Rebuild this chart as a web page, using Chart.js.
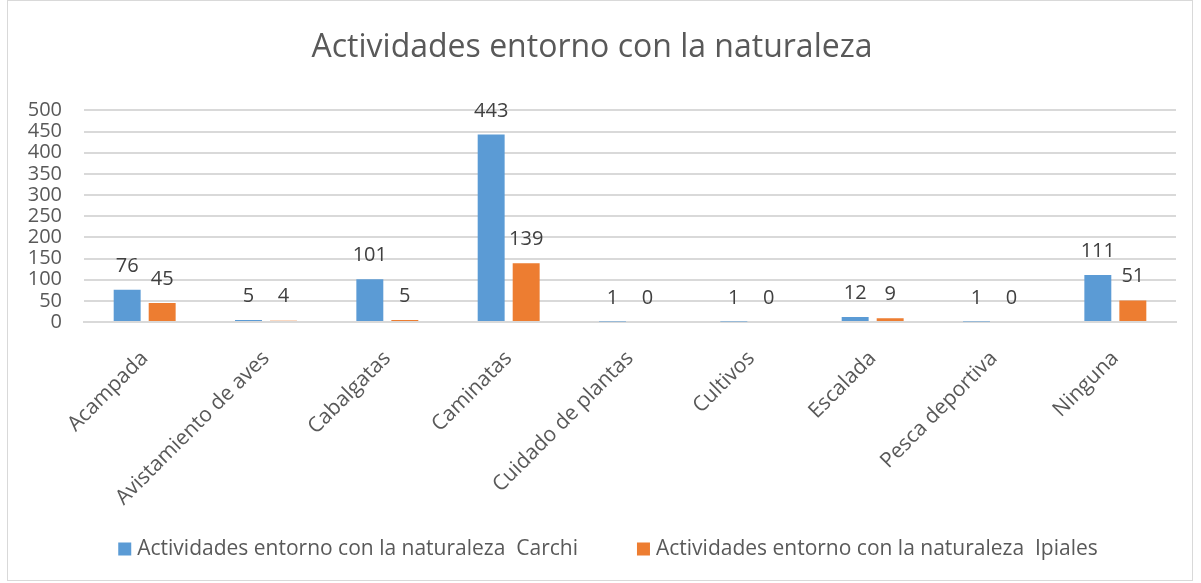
<!DOCTYPE html>
<html>
<head>
<meta charset="utf-8">
<script src="https://cdn.jsdelivr.net/npm/chart.js@4.4.1/dist/chart.umd.min.js"></script>
<style>
  html, body { margin: 0; padding: 0; background: #fff; }
  #wrap { position: relative; width: 1201px; height: 583px; }
  #frame {
    position: absolute; left: 7px; top: 0; width: 1184px; height: 579px;
    border: 1px solid #d9d9d9; pointer-events: none;
  }
</style>
</head>
<body>
<div id="wrap">
  <canvas id="chart" width="1201" height="583"></canvas>
  <div id="frame"></div>
</div>
<script>
// chart data
const categories = ['Acampada', 'Avistamiento de aves', 'Cabalgatas', 'Caminatas',
  'Cuidado de plantas', 'Cultivos', 'Escalada', 'Pesca deportiva', 'Ninguna'];
const carchiValues = [76, 5, 101, 443, 1, 1, 12, 1, 111];
const ipialesValues = [45, 4, 5, 139, 0, 0, 9, 0, 51];
const yTicks = [0, 50, 100, 150, 200, 250, 300, 350, 400, 450, 500];

const FONT = "'Open Sans', sans-serif";
const BLUE = '#5b9bd5';
const ORANGE = '#ed7d31';
const TEXT = '#595959';

// the "Avistamiento de aves" Ipiales bar is shown lighter in the original
const ipialesColors = categories.map((c, i) => i === 1 ? '#f8cbad' : ORANGE);

// simple value labels above each bar (no datalabels plugin available)
const valueLabels = {
  id: 'valueLabels',
  afterDatasetsDraw(chart) {
    const ctx = chart.ctx;
    ctx.save();
    ctx.font = '20px ' + FONT;
    ctx.fillStyle = '#404040';
    ctx.textAlign = 'center';
    ctx.textBaseline = 'alphabetic';
    chart.data.datasets.forEach((ds, di) => {
      chart.getDatasetMeta(di).data.forEach((bar, i) => {
        ctx.fillText(String(ds.data[i]), bar.x, bar.y - 18);
      });
    });
    ctx.restore();
  }
};

// legend drawn by hand so the rotated x labels keep their room
const bottomLegend = {
  id: 'bottomLegend',
  afterDraw(chart) {
    const ctx = chart.ctx;
    const box = 13, gap = 6, itemGap = 59, centerX = 608, centerY = 549;
    ctx.save();
    ctx.font = '21px ' + FONT;
    ctx.textBaseline = 'middle';
    ctx.textAlign = 'left';
    const items = chart.data.datasets.map((ds, i) => ({
      text: ds.label,
      color: i === 0 ? BLUE : ORANGE,
      w: box + gap + ctx.measureText(ds.label).width
    }));
    const total = items.reduce((s, it) => s + it.w, 0) + itemGap * (items.length - 1);
    let x = centerX - total / 2;
    items.forEach(it => {
      ctx.fillStyle = it.color;
      ctx.fillRect(x, centerY - box / 2, box, box);
      ctx.fillStyle = TEXT;
      ctx.fillText(it.text, x + box + gap, centerY);
      x += it.w + itemGap;
    });
    ctx.restore();
  }
};

const ctx = document.getElementById('chart').getContext('2d');
new Chart(ctx, {
  type: 'bar',
  data: {
    labels: categories,
    datasets: [{
      label: 'Actividades entorno con la naturaleza  Carchi',
      data: carchiValues,
      backgroundColor: BLUE,
      barPercentage: 0.77,
      categoryPercentage: 0.577
    },
    {
      label: 'Actividades entorno con la naturaleza  Ipiales',
      data: ipialesValues,
      backgroundColor: ipialesColors,
      barPercentage: 0.77,
      categoryPercentage: 0.577
    }]
  },
  options: {
    responsive: false,
    animation: false,
    layout: { padding: { left: 8, right: 25, top: 0, bottom: 55 } },
    plugins: {
      title: {
        display: true,
        text: 'Actividades entorno con la naturaleza',
        color: TEXT,
        font: { family: FONT, size: 32, weight: 'normal' },
        padding: { top: 29, bottom: 43 }
      },
      legend: { display: false },
      tooltip: { enabled: false }
    },
    scales: {
      x: {
        grid: { display: false, drawTicks: false },
        border: { color: '#d9d9d9', width: 2 },
        ticks: {
          color: TEXT,
          font: { family: FONT, size: 21 },
          minRotation: 45,
          maxRotation: 45,
          padding: 24
        },
        afterFit(scale) { scale.height = 206; }
      },
      y: {
        min: 0,
        max: 500,
        grid: { color: '#d9d9d9', lineWidth: 2, drawTicks: false },
        border: { display: false },
        ticks: {
          color: TEXT,
          font: { family: FONT, size: 20 },
          padding: 22,
          autoSkip: false
        },
        afterBuildTicks(scale) {
          scale.ticks = yTicks.map(v => ({ value: v }));
        },
        afterFit(scale) { scale.width = 76; }
      }
    }
  },
  plugins: [valueLabels, bottomLegend]
});
</script>
</body>
</html>
